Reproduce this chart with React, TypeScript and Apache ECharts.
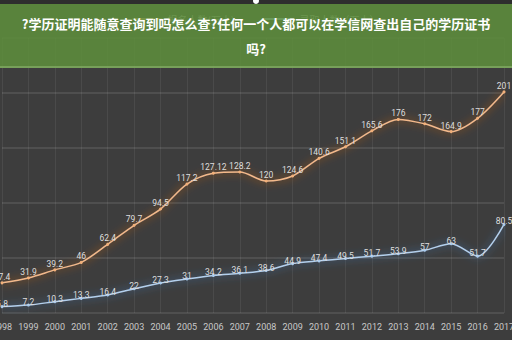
import React, { useEffect, useRef } from "react";
import * as echarts from "echarts";

const years = ["1998","1999","2000","2001","2002","2003","2004","2005","2006","2007","2008","2009","2010","2011","2012","2013","2014","2015","2016","2017"];
const applicants = [27.4, 31.9, 39.2, 46, 62.4, 79.7, 94.5, 117.2, 127.12, 128.2, 120, 124.6, 140.6, 151.1, 165.6, 176, 172, 164.9, 177, 201];
const admitted = [5.8, 7.2, 10.3, 13.3, 16.4, 22, 27.3, 31, 34.2, 36.1, 38.6, 44.9, 47.4, 49.5, 51.7, 53.9, 57, 63, 51.7, 80.5];
const seriesNames = ["报名人数(万人)", "录取人数（万人）"];
const titleLine1 = "?学历证明能随意查询到吗怎么查?任何一个人都可以在学信网查出自己的学历证书";
const titleLine2 = "吗?";

export default function App() {
  const ref = useRef<HTMLDivElement>(null);
  useEffect(() => {
    if (!ref.current) return;
    const chart = echarts.init(ref.current, null, { renderer: "svg" });
    const labelStyle = {
      show: true,
      position: "top" as const,
      distance: 0,
      offset: [0, 3],
      color: "#dedede",
      fontSize: 8.5,
      fontFamily: "Roboto, sans-serif",
    };
    chart.setOption({
      animation: false,
      backgroundColor: "#3d3d3d",
      legend: {
        top: 9,
        left: "center",
        itemWidth: 30,
        itemHeight: 2,
        itemGap: 30,
        icon: "rect",
        textStyle: { color: "#b0b0b0", fontSize: 10, fontFamily: "Noto Sans CJK SC" },
        data: seriesNames,
      },
      grid: { left: 2, right: 8, top: 38, bottom: 27, containLabel: false, outerBoundsMode: "none" },
      xAxis: {
        type: "category",
        data: years,
        boundaryGap: false,
        axisLine: { show: false },
        axisTick: { show: false },
        axisLabel: { color: "#c8c8c8", fontSize: 9, margin: 9, interval: 0, fontFamily: "Roboto, sans-serif", hideOverlap: false },
        splitLine: { show: true, lineStyle: { color: "rgba(255,255,255,0.07)", width: 1 } },
      },
      yAxis: {
        type: "value",
        min: 0,
        max: 250,
        interval: 50,
        axisLine: { show: false },
        axisTick: { show: false },
        axisLabel: { show: false },
        splitLine: { show: true, lineStyle: { color: "rgba(255,255,255,0.13)", width: 1.5 } },
      },
      series: [
        {
          name: seriesNames[0],
          type: "line",
          data: applicants,
          smooth: 0.3,
          symbol: "circle",
          symbolSize: 3,
          itemStyle: { color: "#f2b07a" },
          lineStyle: { color: "#f3b98a", width: 1.5, shadowColor: "#d9651e", shadowBlur: 8 },
          label: labelStyle,
          labelLayout: { hideOverlap: false },
        },
        {
          name: seriesNames[1],
          type: "line",
          data: admitted,
          smooth: 0.3,
          symbol: "circle",
          symbolSize: 3,
          itemStyle: { color: "#a9cbee" },
          lineStyle: { color: "#b3d0ee", width: 1.5, shadowColor: "#3f82cc", shadowBlur: 8 },
          label: labelStyle,
        },
      ],
      graphic: [
        {
          type: "rect",
          left: 0,
          top: 0,
          shape: { width: 512, height: 4 },
          style: { fill: "#2e2e2e" },
          z: 100,
        },
        {
          type: "circle",
          left: 253,
          top: -2,
          shape: { r: 3 },
          style: { fill: "#ffffff" },
          z: 101,
        },
        {
          type: "rect",
          left: 0,
          top: 4,
          shape: { width: 512, height: 64 },
          style: { fill: "rgba(94,144,60,0.84)" },
          z: 100,
        },
        {
          type: "rect",
          left: 0,
          top: 66,
          shape: { width: 512, height: 2 },
          style: { fill: "rgba(140,180,110,0.6)" },
          z: 100,
        },
        {
          type: "text",
          left: "center",
          top: 17,
          style: {
            text: titleLine1,
            fill: "#ffffff",
            font: "bold 13px 'Noto Sans CJK SC'",
          },
          z: 102,
        },
        {
          type: "text",
          left: "center",
          top: 42,
          style: {
            text: titleLine2,
            fill: "#ffffff",
            font: "bold 13px 'Noto Sans CJK SC'",
          },
          z: 102,
        },
      ],
    });
    return () => chart.dispose();
  }, []);
  return <div ref={ref} style={{ width: 512, height: 340, position: "fixed", left: 0, top: 0 }} />;
}
